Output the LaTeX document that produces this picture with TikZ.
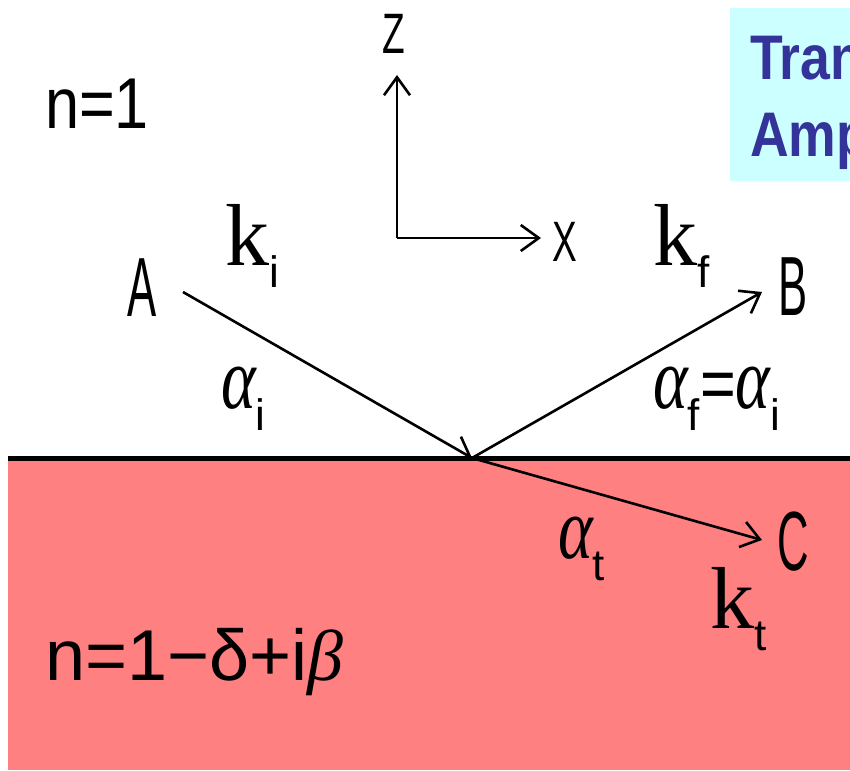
\documentclass[tikz,border=0pt]{standalone}
\usepackage{fontspec}
\setmainfont{Liberation Sans}
\newfontfamily\lserif{Liberation Serif}
\usetikzlibrary{arrows.meta}
\definecolor{pinkbg}{HTML}{FF8080}
\definecolor{cyanbg}{HTML}{CCFFFF}
\definecolor{navytxt}{HTML}{333399}
\newcommand\subtx[1]{\raisebox{-22pt}{\fontsize{44}{44}\selectfont #1}}
\newcommand\kk{{\lserif\fontsize{88}{88}\selectfont k}}
\newcommand\alp{\scalebox{0.75}[1]{\lserif\itshape\fontsize{88}{88}\selectfont α}}
\newcommand\nar[2]{\scalebox{#1}[1]{#2}}
\tikzset{
  capl/.style={font=\fontsize{84}{84}\selectfont, inner sep=0pt},
  axl/.style={font=\fontsize{57}{57}\selectfont, inner sep=0pt},
  idx/.style={font=\fontsize{72}{72}\selectfont, inner sep=0pt},
  sym/.style={inner sep=0pt, anchor=base west},
  title/.style={font=\bfseries\fontsize{63}{63}\selectfont, text=navytxt, inner sep=0pt, anchor=base west},
  ray/.style={line width=2.6pt, -{Straight Barb[length=18pt,width=26pt,line width=2.6pt]}},
}
\begin{document}
\begin{tikzpicture}[x=1pt,y=-1pt]
\useasboundingbox (0,0) rectangle (850,770);
\clip (0,0) rectangle (850,770);
% backgrounds
\fill[white] (0,0) rectangle (850,770);
\fill[cyanbg] (730,8) rectangle (860,181);
\fill[pinkbg] (8,458) rectangle (860,770);
\draw[line width=5pt] (8,458) -- (860,458);
% title fragment (cut by the right edge, as in the reference)
\node[title] (t1) at (750,80) {\nar{0.85}{Tran}};
\node[title] (t2) at (750,157) {\nar{0.85}{Amp}};
% refractive indices
\node[idx] (n1) at (97,104) {\nar{0.85}{n=1}};
\node[idx, anchor=base west] (n2) at (45,680) {\nar{1.0}{n=1−δ+i{\lserif\itshape β}}};
% axes
\node[axl] (Z) at (394,34) {\nar{0.65}{Z}};
\node[axl] (X) at (565,242) {\nar{0.65}{X}};
\coordinate (orig) at (397,238);
\coordinate (ztip) at (397,75);
\coordinate (xtip) at (541,238);
\draw[ray] (orig) -- (ztip);
\draw[ray] (orig) -- (xtip);
% points
\node[capl] (A) at (142,288) {\nar{0.52}{A}};
\node[capl] (B) at (793,287) {\nar{0.52}{B}};
\node[capl] (C) at (793,542) {\nar{0.52}{C}};
% rays
\coordinate (O) at (472,458);
\coordinate (ain) at (183,292);
\coordinate (btip) at (762,292);
\coordinate (ctip) at (762,540);
\draw[ray] (ain) -- (O);
\draw[ray] (O) -- (btip);
\draw[ray] (O) -- (ctip);
% wave vectors and angles
\node[sym] (ki) at (225,265) {\kk\subtx{i}};
\node[sym] (kf) at (653,265) {\kk\subtx{f}};
\node[sym] (kt) at (710,628) {\kk\subtx{t}};
\node[sym] (ai) at (221,408) {\alp\subtx{i}};
\node[sym] (af) at (653,408) {\alp\subtx{f}{\fontsize{72}{72}\selectfont\nar{0.85}{=}}\alp\subtx{i}};
\node[sym] (at) at (558,558) {\alp\subtx{t}};
\end{tikzpicture}
\end{document}
